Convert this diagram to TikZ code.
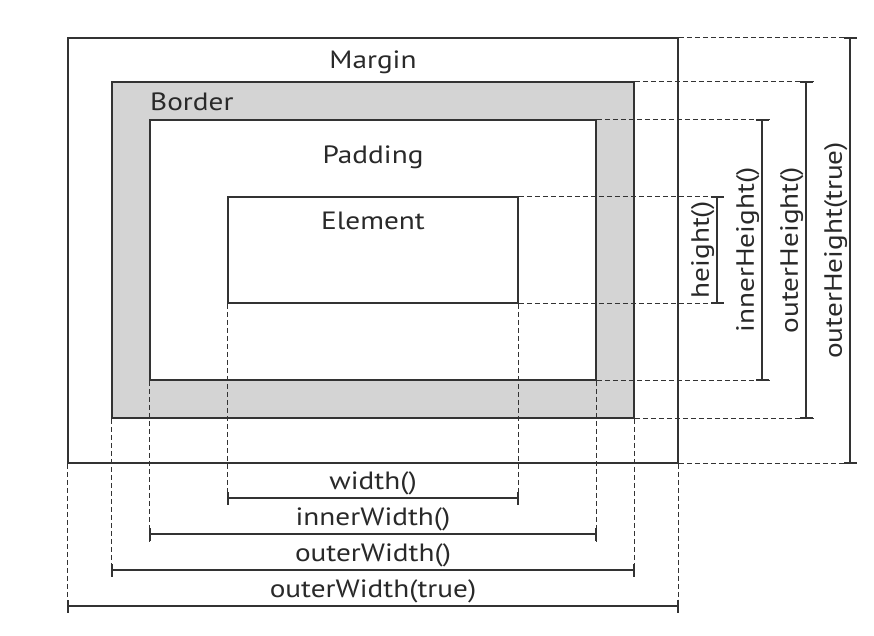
\documentclass[tikz,border=0pt]{standalone}
\usepackage{fontspec}
\setmainfont{PT Sans}[FakeStretch=1.17]
\usetikzlibrary{arrows.meta}
\definecolor{bordergray}{RGB}{212,212,212}
\definecolor{ink}{RGB}{51,51,51}
\tikzset{
	box/.style={draw=ink,line width=1.5pt,inner sep=0pt,anchor=center},
	guide/.style={draw=ink,line width=1.2pt,dash pattern=on 5pt off 3pt},
	dim/.style={draw=ink,line width=1.5pt,{Bar[width=13pt,line width=1.5pt]}-{Bar[width=13pt,line width=1.5pt]}},
	lbl/.style={font=\fontsize{25}{28}\selectfont,inner sep=2pt,text=ink!80!black}
}
\begin{document}
\begin{tikzpicture}[x=1pt,y=-1pt]
	\useasboundingbox (0,0) rectangle (874,636);
	\node[box,minimum width=610pt,minimum height=425pt](margin) at (373,250.5){};
	\node[box,fill=bordergray,minimum width=522pt,minimum height=336pt](border) at (373,250){};
	\node[box,fill=white,minimum width=446pt,minimum height=260pt](padding) at (373,250){};
	\node[box,minimum width=290pt,minimum height=106pt](element) at (373,250){};
	\node[lbl](tmargin) at (373,62){Margin};
	\node[lbl,anchor=west](tborder) at (148,102){Border};
	\node[lbl](tpadding) at (373,157){Padding};
	\node[lbl](telement) at (373,221){Element};
	% where the bars stand
	\coordinate (hE) at (717,0);
	\coordinate (hP) at (762,0);
	\coordinate (hB) at (806,0);
	\coordinate (hM) at (850,0);
	\coordinate (wE) at (0,498);
	\coordinate (wP) at (0,534);
	\coordinate (wB) at (0,570);
	\coordinate (wM) at (0,606);
	% heights
	\draw[guide] (element.north east)--([xshift=8pt]element.north east-|hE) (element.south east)--([xshift=8pt]element.south east-|hE)
	(padding.north east)--([xshift=8pt]padding.north east-|hP) (padding.south east)--([xshift=8pt]padding.south east-|hP)
	(border.north east)--([xshift=8pt]border.north east-|hB) (border.south east)--([xshift=8pt]border.south east-|hB)
	(margin.north east)--([xshift=7pt]margin.north east-|hM) (margin.south east)--([xshift=7pt]margin.south east-|hM);
	\draw[dim] (element.north east-|hE)--(element.south east-|hE) node[midway,lbl,rotate=90,anchor=south]{height()};
	\draw[dim] (padding.north east-|hP)--(padding.south east-|hP) node[midway,lbl,rotate=90,anchor=south]{innerHeight()};
	\draw[dim] (border.north east-|hB)--(border.south east-|hB) node[midway,lbl,rotate=90,anchor=south]{outerHeight()};
	\draw[dim] (margin.north east-|hM)--(margin.south east-|hM) node[midway,lbl,rotate=90,anchor=south]{outerHeight(true)};
	% widths
	\draw[guide] (element.south west)--([yshift=-7pt]element.south west|-wE) (element.south east)--([yshift=-7pt]element.south east|-wE)
	(padding.south west)--([yshift=-7pt]padding.south west|-wP) (padding.south east)--([yshift=-7pt]padding.south east|-wP)
	(border.south west)--([yshift=-7pt]border.south west|-wB) (border.south east)--([yshift=-7pt]border.south east|-wB)
	(margin.south west)--([yshift=-7pt]margin.south west|-wM) (margin.south east)--([yshift=-7pt]margin.south east|-wM);
	\draw[dim] (element.south west|-wE)--(element.south east|-wE) node[midway,lbl,anchor=south]{width()};
	\draw[dim] (padding.south west|-wP)--(padding.south east|-wP) node[midway,lbl,anchor=south]{innerWidth()};
	\draw[dim] (border.south west|-wB)--(border.south east|-wB) node[midway,lbl,anchor=south]{outerWidth()};
	\draw[dim] (margin.south west|-wM)--(margin.south east|-wM) node[midway,lbl,anchor=south]{outerWidth(true)};
\end{tikzpicture}
\end{document}
